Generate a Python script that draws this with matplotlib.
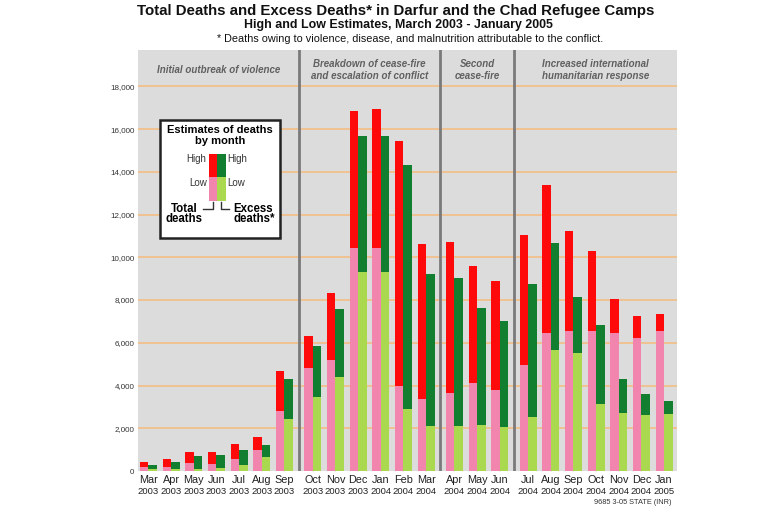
import matplotlib
matplotlib.use("Agg")
import matplotlib.pyplot as plt
from matplotlib.patches import Rectangle
from matplotlib.lines import Line2D

plt.rcParams['font.family'] = ['Liberation Sans', 'DejaVu Sans']

# ---------------- data ----------------
months = ['Mar', 'Apr', 'May', 'Jun', 'Jul', 'Aug', 'Sep', 'Oct', 'Nov', 'Dec',
          'Jan', 'Feb', 'Mar', 'Apr', 'May', 'Jun', 'Jul', 'Aug', 'Sep', 'Oct',
          'Nov', 'Dec', 'Jan']
years = ['2003'] * 10 + ['2004'] * 12 + ['2005']
panel_of_month = [0] * 7 + [1] * 6 + [2] * 3 + [3] * 7
panel_labels = ["Initial outbreak of violence",
                "Breakdown of cease-fire\nand escalation of conflict",
                "Second\ncease-fire",
                "Increased international\nhumanitarian response"]

total_low = [200, 200, 360, 310, 560, 990, 2810, 4820, 5180, 10440, 10440, 4000,
             3350, 3640, 4100, 3800, 4980, 6480, 6570, 6560, 6460, 6240, 6570]
total_high = [430, 540, 900, 900, 1270, 1570, 4680, 6310, 8310, 16860, 16940, 15430,
              10600, 10720, 9610, 8870, 11020, 13380, 11220, 10300, 8070, 7270, 7330]
excess_low = [80, 80, 80, 120, 290, 670, 2430, 3460, 4390, 9300, 9300, 2880,
              2110, 2100, 2130, 2070, 2540, 5650, 5540, 3130, 2720, 2600, 2690]
excess_high = [280, 400, 710, 730, 960, 1210, 4290, 5830, 7580, 15660, 15660, 14310,
               9230, 9010, 7620, 7020, 8740, 10680, 8120, 6840, 4310, 3600, 3290]

yticks = [0, 2000, 4000, 6000, 8000, 10000, 12000, 14000, 16000, 18000]

# ---------------- style ----------------
RED = '#FF0A0A'
PINK = '#F285AE'
DGREEN = '#127E30'
LGREEN = '#AAD84E'
BG = '#DCDCDC'
GRID = '#F2C08C'
SEP = '#7A7A7A'

W, H = 770, 512
fig = plt.figure(figsize=(W / 100, H / 100), dpi=100)
fig.patch.set_facecolor('white')

def fx(x):
    return x / W

def fy(y):
    return 1 - y / H

ax_l, ax_r, ax_t, ax_b = 138, 677, 50, 471
ax = fig.add_axes([fx(ax_l), fy(ax_b), (ax_r - ax_l) / W, (ax_b - ax_t) / H])
ax.set_facecolor(BG)
for s in ax.spines.values():
    s.set_visible(False)

gap = 0.25
xs = [i + gap * p for i, p in enumerate(panel_of_month)]
bw = 0.375
off = 0.19

xt = [x - off for x in xs]
xe = [x + off for x in xs]
ax.bar(xt, total_low, width=bw, color=PINK, zorder=3, linewidth=0)
ax.bar(xt, [h - l for h, l in zip(total_high, total_low)], bottom=total_low,
       width=bw, color=RED, zorder=3, linewidth=0)
ax.bar(xe, excess_low, width=bw, color=LGREEN, zorder=3, linewidth=0)
ax.bar(xe, [h - l for h, l in zip(excess_high, excess_low)], bottom=excess_low,
       width=bw, color=DGREEN, zorder=3, linewidth=0)

xmin, xmax = -0.46, 23.32
ax.set_xlim(xmin, xmax)
ax.set_ylim(0, 19700)

for v in yticks[1:]:
    ax.axhline(v, color=GRID, lw=1.3, zorder=1)

# panel separators and labels
bounds = [xmin]
for i in range(1, len(xs)):
    if panel_of_month[i] != panel_of_month[i - 1]:
        bounds.append((xs[i - 1] + xs[i]) / 2)
bounds.append(xmax)
for b in bounds[1:-1]:
    ax.axvline(b, color=SEP, lw=2.0, zorder=4)
for k, lab in enumerate(panel_labels):
    cx = (bounds[k] + bounds[k + 1]) / 2
    ax.text(cx, 0.952, lab, transform=ax.get_xaxis_transform(), ha='center',
            va='center', fontsize=7.0, style='italic', fontweight='bold',
            color='#606060', linespacing=1.2, zorder=5)

ax.set_yticks(yticks)
ax.set_yticklabels([f"{v:,}" for v in yticks], fontsize=5.8, color='#333333')
ax.tick_params(axis='y', length=0, pad=2.5)
ax.set_xticks([])

trans = ax.get_xaxis_transform()
for x, m, yr in zip(xs, months, years):
    ax.text(x, -(480 - ax_b) / (ax_b - ax_t), m, transform=trans, ha='center',
            va='center', fontsize=7.8, color='#222222', clip_on=False)
    ax.text(x, -(491 - ax_b) / (ax_b - ax_t), yr, transform=trans, ha='center',
            va='center', fontsize=6.8, color='#222222', clip_on=False)

# titles
fig.text(fx(396), fy(11), "Total Deaths and Excess Deaths* in Darfur and the Chad Refugee Camps",
         ha='center', va='center', fontsize=10.8, fontweight='bold', color='#111111')
fig.text(fx(398), fy(25), "High and Low Estimates, March 2003 - January 2005",
         ha='center', va='center', fontsize=8.9, fontweight='bold', color='#111111')
fig.text(fx(410), fy(39), "* Deaths owing to violence, disease, and malnutrition attributable to the conflict.",
         ha='center', va='center', fontsize=7.8, color='#111111')
fig.text(fx(672), fy(502), "9685 3-05 STATE (INR)", ha='right', va='center',
         fontsize=5.3, color='#333333')

# legend box (figure pixel coordinates)
def rect(x0, y0, x1, y1, **kw):
    r = Rectangle((fx(x0), fy(y1)), (x1 - x0) / W, (y1 - y0) / H,
                  transform=fig.transFigure, **kw)
    fig.add_artist(r)

rect(160, 120, 280, 238, facecolor='white', edgecolor='#222222', lw=1.8, zorder=10)
rect(209.3, 154, 217.3, 177.3, facecolor=RED, lw=0, zorder=11)
rect(209.3, 177.3, 217.3, 200.7, facecolor=PINK, lw=0, zorder=11)
rect(217.3, 154, 225.7, 177.3, facecolor=DGREEN, lw=0, zorder=11)
rect(217.3, 177.3, 225.7, 200.7, facecolor=LGREEN, lw=0, zorder=11)

def ftxt(x, y, s, **kw):
    return fig.text(fx(x), fy(y), s, va='center', zorder=12, **kw)

ftxt(220, 130, "Estimates of deaths", ha='center', fontsize=8.0, fontweight='bold')
ftxt(220, 141, "by month", ha='center', fontsize=8.0, fontweight='bold')
ftxt(206.5, 158.5, "High", ha='right', fontsize=7.0, color='#333333')
ftxt(206.5, 183.5, "Low", ha='right', fontsize=7.0, color='#333333')
ftxt(227.5, 158.5, "High", ha='left', fontsize=7.0, color='#333333')
ftxt(227.5, 183.5, "Low", ha='left', fontsize=7.0, color='#333333')
ftxt(184.5, 208.5, "Total", ha='center', fontsize=8.3, fontweight='bold')
ftxt(184.5, 219.5, "deaths", ha='center', fontsize=8.3, fontweight='bold')
ftxt(253.0, 208.5, "Excess", ha='center', fontsize=8.3, fontweight='bold')
ftxt(254.0, 219.5, "deaths*", ha='center', fontsize=8.3, fontweight='bold')

for pts in ([(202.5, 209), (212.7, 209), (212.7, 202)],
            [(221, 202), (221, 209), (228.5, 209)]):
    fig.add_artist(Line2D([fx(p[0]) for p in pts], [fy(p[1]) for p in pts],
                          transform=fig.transFigure, color='#333333', lw=1.0, zorder=12))

fig.savefig("out.png", dpi=100)
